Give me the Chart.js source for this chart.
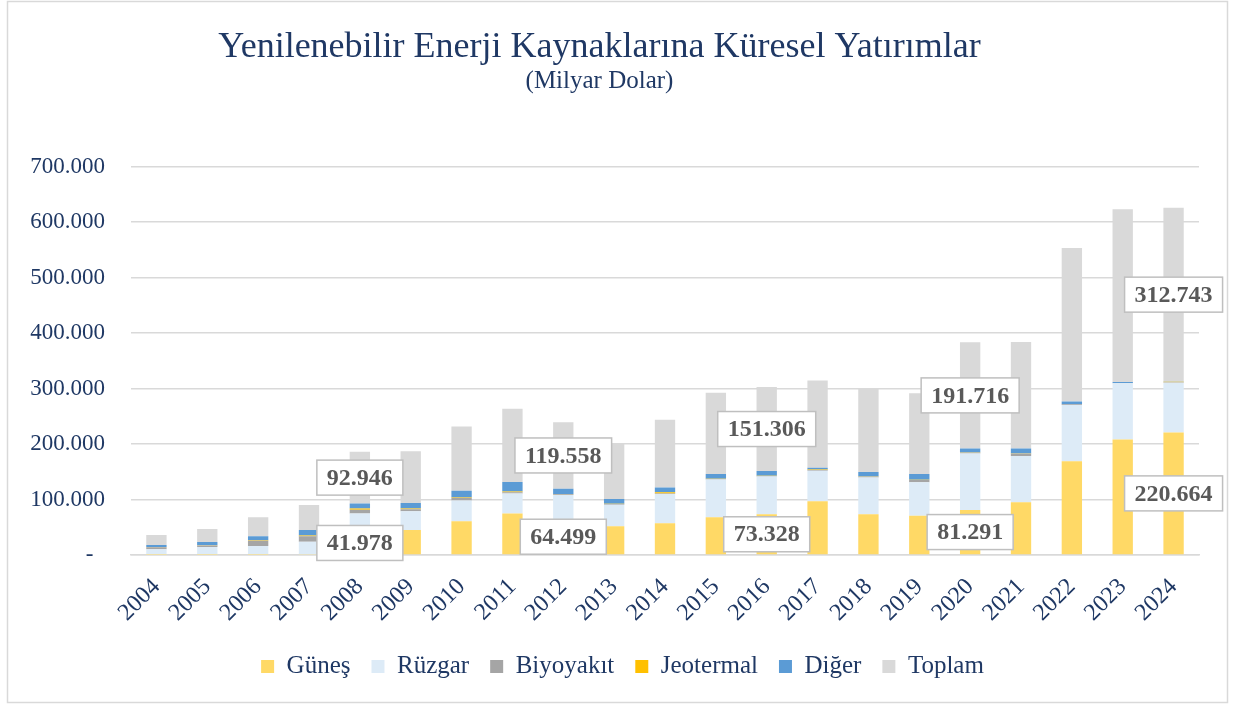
<!DOCTYPE html>
<html>
<head>
<meta charset="utf-8">
<script src="https://cdn.jsdelivr.net/npm/chart.js@4.4.1/dist/chart.umd.min.js"></script>
<style>
  html, body { margin: 0; padding: 0; background: #fff; }
  #wrap { position: relative; width: 1234px; height: 706px; }
</style>
</head>
<body>
<div id="wrap"><canvas id="investChart" width="1234" height="706"></canvas></div>
<script>
// Values in billion USD
const years = ['2004','2005','2006','2007','2008','2009','2010','2011','2012','2013','2014',
               '2015','2016','2017','2018','2019','2020','2021','2022','2023','2024'];
const gunes   = [0.3, 0.5, 0.5, 1, 41.978, 45, 60.6, 75, 64.499, 51.6, 57, 67.9, 73.328, 96.7, 73.2, 70.9, 81.291, 95, 168.9, 208, 220.664];
const ruzgar  = [10, 14, 15.5, 23, 32.968, 34, 37.4, 36, 43.5, 39.1, 53, 68, 68.078, 55, 66.4, 60.2, 101.725, 83.3, 101.5, 101.6, 89.5];
const biyo    = [3.5, 2.5, 9.5, 10, 6.5, 3.5, 4.7, 2, 1.5, 1, 1, 1, 1, 1.5, 1.2, 4, 1, 4, 1, 0.3, 1.2];
const jeo     = [0.5, 0.5, 1, 1, 2.5, 1.5, 1, 1.5, 0.6, 0.5, 2, 0.5, 0.5, 0.8, 0.5, 0.5, 0.5, 0.5, 0.4, 0.1, 0.6];
const diger   = [3.7, 6, 7.5, 10, 9, 9.5, 12, 17.2, 9.459, 8.8, 8.8, 8.7, 8.4, 3.2, 8.4, 10.2, 7.2, 9, 4.8, 1.5, 0.779];
const toplam  = [18, 23.5, 34, 45, 92.946, 93.5, 115.7, 131.7, 119.558, 101, 121.8, 146.1, 151.306, 157.2, 149.7, 145.8, 191.716, 191.8, 276.6, 311.5, 312.743];
const labelledYears = ['2008', '2012', '2016', '2020', '2024'];
const yTicks = [0, 100, 200, 300, 400, 500, 600, 700];

const navy = '#1F3864';
const serif = "'Liberation Serif', 'Times New Roman', serif";

// frame around the whole picture
const framePlugin = {
  id: 'frame',
  beforeDraw(chart) {
    const c = chart.ctx;
    c.save();
    c.fillStyle = '#fff';
    c.fillRect(0, 0, chart.width, chart.height);
    c.strokeStyle = '#D9D9D9';
    c.lineWidth = 1.5;
    c.strokeRect(7.5, 1.5, 1220, 701);
    c.restore();
  }
};

// legend sits a bit right of the plot centre in the original
const legendShift = {
  id: 'legendShift',
  afterLayout(chart) {
    chart.legend.left += 23;
    chart.legend.right += 23;
  }
};

// boxed value labels on Güneş and Toplam segments
const boxLabels = {
  id: 'boxLabels',
  afterDatasetsDraw(chart) {
    const c = chart.ctx;
    c.save();
    c.font = "bold 24px " + serif;
    c.textAlign = 'center';
    c.textBaseline = 'middle';
    [0, 5].forEach(function(di) {
      const meta = chart.getDatasetMeta(di);
      const ds = chart.data.datasets[di];
      labelledYears.forEach(function(yr) {
        const i = years.indexOf(yr);
        const el = meta.data[i];
        const txt = ds.data[i].toFixed(3);
        const w = c.measureText(txt).width + 20;
        const h = 35;
        const cx = el.x;
        const cy = (el.y + el.base) / 2;
        c.fillStyle = '#fff';
        c.fillRect(cx - w / 2, cy - h / 2, w, h);
        c.strokeStyle = '#BFBFBF';
        c.lineWidth = 1.5;
        c.strokeRect(cx - w / 2, cy - h / 2, w, h);
        c.fillStyle = '#595959';
        c.fillText(txt, cx, cy + 1);
      });
    });
    c.restore();
  }
};

const ctx = document.getElementById('investChart').getContext('2d');
const chart = new Chart(ctx, {
  type: 'bar',
  data: {
    labels: years,
    datasets: [
      { label: 'Güneş', data: gunes, backgroundColor: '#FFD966' },
      { label: 'Rüzgar', data: ruzgar, backgroundColor: '#DDEBF7' },
      { label: 'Biyoyakıt', data: biyo, backgroundColor: '#A5A5A5' },
      { label: 'Jeotermal', data: jeo, backgroundColor: '#FFC000' },
      { label: 'Diğer', data: diger, backgroundColor: '#5B9BD5' },
      { label: 'Toplam', data: toplam, backgroundColor: '#D9D9D9' }
    ]
  },
  options: {
    responsive: false,
    animation: false,
    categoryPercentage: 1,
    barPercentage: 0.4,
    layout: { padding: { left: 0, right: 35, top: 0, bottom: 17 } },
    plugins: {
      title: {
        display: true,
        text: 'Yenilenebilir Enerji Kaynaklarına Küresel Yatırımlar',
        color: navy,
        font: { family: serif, size: 36, weight: 'normal', lineHeight: 1 },
        padding: { top: 30, bottom: 0 }
      },
      subtitle: {
        display: true,
        text: '(Milyar Dolar)',
        color: navy,
        font: { family: serif, size: 25, weight: 'normal', lineHeight: 1 },
        padding: { top: 2.5, bottom: 73 }
      },
      legend: {
        position: 'bottom',
        labels: {
          color: navy,
          font: { family: serif, size: 25 },
          boxWidth: 13,
          boxHeight: 13,
          padding: 21
        }
      },
      tooltip: { enabled: false }
    },
    scales: {
      x: {
        stacked: true,
        grid: { display: false },
        border: { color: '#D9D9D9', width: 1.5 },
        ticks: {
          color: navy,
          font: { family: serif, size: 24 },
          minRotation: 45,
          maxRotation: 45,
          padding: 10
        },
        afterFit(scale) { scale.height = 78; }
      },
      y: {
        stacked: true,
        min: 0,
        max: 700,
        afterBuildTicks(scale) { scale.ticks = yTicks.map(v => ({ value: v })); },
        grid: { color: '#D9D9D9', lineWidth: 1.5, drawTicks: false },
        border: { display: false },
        ticks: {
          color: navy,
          font: { family: serif, size: 23 },
          padding: 26,
          callback: v => v === 0 ? '-  ' : v.toFixed(3)
        },
        afterFit(scale) { scale.width = 131; }
      }
    }
  },
  plugins: [framePlugin, legendShift, boxLabels]
});
</script>
</body>
</html>
